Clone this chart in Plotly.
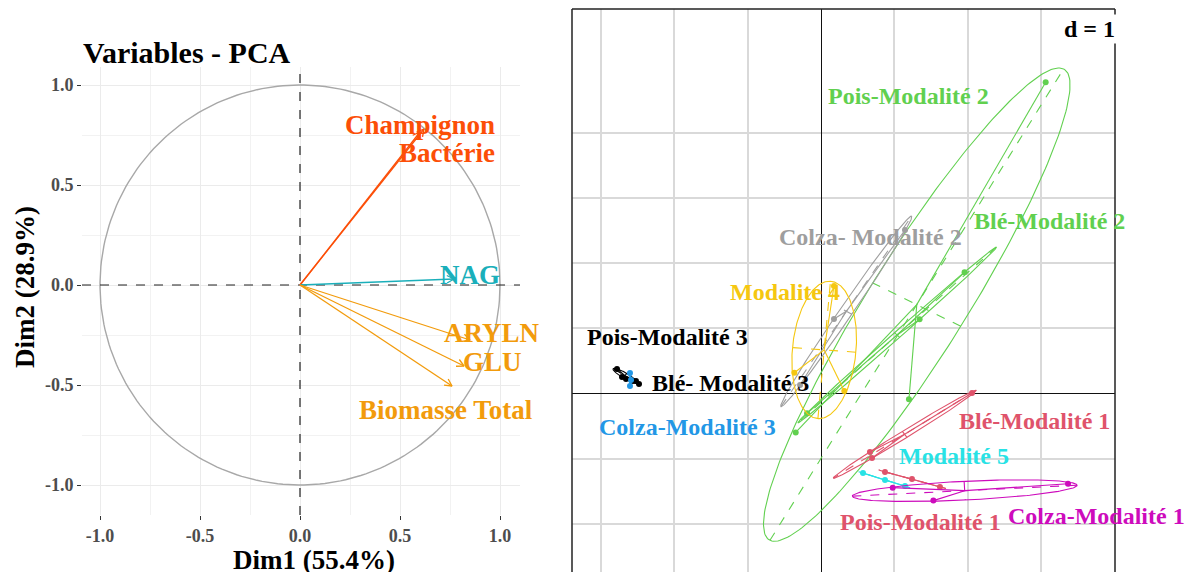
import numpy as np
import plotly.graph_objects as go

# ---------------- Left panel : PCA variables ----------------
var_names = ["Champignon", "Bactérie", "NAG", "ARYLN", "GLU", "Biomasse Total"]
var_dim1 = [0.62, 0.60, 0.77, 0.85, 0.82, 0.76]
var_dim2 = [0.78, 0.765, 0.03, -0.275, -0.405, -0.505]
var_colors = ["#FC4E07", "#FC4E07", "#1AAFBA", "#F29B0C", "#F29B0C", "#F29B0C"]
var_label_x = [0.60, 0.735, 0.85, 0.96, 0.96, 0.73]
var_label_y = [0.80, 0.66, 0.05, -0.24, -0.385, -0.625]
dim1_title = "Dim1 (55.4%)"
dim2_title = "Dim2 (28.9%)"
left_ticks = [-1.0, -0.5, 0.0, 0.5, 1.0]
left_ticktext = ["-1.0", "-0.5", "0.0", "0.5", "1.0"]

# ---------------- Right panel : s.class groups ----------------
grp_names = ["Pois-Modalité 2", "Blé-Modalité 2", "Colza- Modalité 2", "Modalite 4",
             "Pois-Modalité 3", "Blé- Modalité 3", "Colza-Modalité 3",
             "Blé-Modalité 1", "Modalité 5", "Pois-Modalité 1", "Colza-Modalité 1"]
grp_colors = ["#61D04F", "#61D04F", "#9E9E9E", "#F5C710",
              "#000000", "#000000", "#2297E6",
              "#DF536B", "#28E2E5", "#DF536B", "#CD0BBC"]
grp_x = [[3.065, 1.20, -0.345],
         [1.959, 1.345, -0.19],
         [1.146, 0.177, -0.286],
         [0.177, -0.364, 0.318],
         [-2.783, -2.715, -2.524],
         [-2.660, -2.565, -2.483],
         [-2.606, -2.592, -2.606],
         [2.060, 0.696, 0.668],
         [0.573, 0.873, 1.146],
         [0.873, 1.241, 1.623],
         [3.370, 0.978, 1.533]]
grp_y = [[4.77, -0.09, -0.60],
         [1.855, 1.134, -0.307],
         [2.505, 1.140, 0.127],
         [1.646, 0.316, 0.035],
         [0.373, 0.250, 0.189],
         [0.219, 0.189, 0.143],
         [0.311, 0.204, 0.112],
         [0.005, -0.992, -0.900],
         [-1.222, -1.330, -1.422],
         [-1.206, -1.314, -1.437],
         [-1.387, -1.447, -1.646]]
grp_label_x = [1.187, 3.124, 0.682, -0.491, -2.101, -1.241, -1.828, 2.906, 1.814, 1.351, 3.752]
grp_label_y = [4.56, 2.643, 2.397, 1.554, 0.864, 0.158, -0.517, -0.425, -0.962, -1.974, -1.882]
grid_x = [-3, -2, -1, 1, 2, 3]
grid_y = [-2, -1, 1, 2, 3, 4]
cellipse = 1.5

SERIF = "Liberation Serif"
W, H = 1194, 572
OFF = 8  # page body margin of the browser


def fx(p):
    return (p - OFF) / W


def fy(p):
    return 1 - (p - OFF) / H


fig = go.Figure()

# ---- left panel traces
t = np.linspace(0, 2 * np.pi, 240)
fig.add_trace(go.Scatter(x=np.cos(t), y=np.sin(t), mode="lines",
                         line=dict(color="#A8A8A8", width=1.4), xaxis="x", yaxis="y",
                         hoverinfo="skip", showlegend=False))
fig.add_trace(go.Scatter(x=[-1.09, 1.10], y=[0, 0], mode="lines",
                         line=dict(color="#222222", width=1.2, dash="dash"),
                         xaxis="x", yaxis="y", showlegend=False, hoverinfo="skip"))
fig.add_trace(go.Scatter(x=[0, 0], y=[-1.15, 1.09], mode="lines",
                         line=dict(color="#222222", width=1.2, dash="dash"),
                         xaxis="x", yaxis="y", showlegend=False, hoverinfo="skip"))

head_len = 0.04
head_ang = np.deg2rad(28)
for name, vx, vy, col in zip(var_names, var_dim1, var_dim2, var_colors):
    ang = np.arctan2(vy, vx)
    hx = [vx - head_len * np.cos(ang - head_ang), vx, vx - head_len * np.cos(ang + head_ang)]
    hy = [vy - head_len * np.sin(ang - head_ang), vy, vy - head_len * np.sin(ang + head_ang)]
    fig.add_trace(go.Scatter(x=[0, vx, None] + hx, y=[0, vy, None] + hy, mode="lines",
                             line=dict(color=col, width=1.3), xaxis="x", yaxis="y",
                             showlegend=False, name=name))

annotations = []
for name, lx, ly, col in zip(var_names, var_label_x, var_label_y, var_colors):
    annotations.append(dict(x=lx, y=ly, xref="x", yref="y", text="<b>%s</b>" % name,
                            showarrow=False, font=dict(family=SERIF, size=27, color=col)))

annotations.append(dict(x=fx(81), y=fy(53), xref="paper", yref="paper",
                        xanchor="left", yanchor="middle", text="<b>Variables - PCA</b>",
                        showarrow=False, font=dict(family=SERIF, size=30, color="#000000")))
annotations.append(dict(x=fx(314), y=fy(560), xref="paper", yref="paper",
                        xanchor="center", yanchor="middle", text="<b>%s</b>" % dim1_title,
                        showarrow=False, font=dict(family=SERIF, size=27, color="#000000")))
annotations.append(dict(x=fx(25), y=fy(287), xref="paper", yref="paper",
                        xanchor="center", yanchor="middle", text="<b>%s</b>" % dim2_title,
                        textangle=-90, showarrow=False,
                        font=dict(family=SERIF, size=27, color="#000000")))

# ---- right panel traces
for name, xs, ys, col in zip(grp_names, grp_x, grp_y, grp_colors):
    x = np.array(xs, dtype=float)
    y = np.array(ys, dtype=float)
    mx, my = x.mean(), y.mean()
    cov = np.cov(np.vstack([x, y]), bias=True)
    vals, vecs = np.linalg.eigh(cov)
    order = np.argsort(vals)[::-1]
    vals = np.clip(vals[order], 0, None)
    vecs = vecs[:, order]
    a = cellipse * np.sqrt(vals[0])
    b = cellipse * np.sqrt(vals[1])
    v1, v2 = vecs[:, 0], vecs[:, 1]
    ex = mx + a * np.cos(t) * v1[0] + b * np.sin(t) * v2[0]
    ey = my + a * np.cos(t) * v1[1] + b * np.sin(t) * v2[1]
    fig.add_trace(go.Scatter(x=ex, y=ey, mode="lines", line=dict(color=col, width=1.1),
                             xaxis="x2", yaxis="y2", showlegend=False, hoverinfo="skip"))
    axx = [mx - a * v1[0], mx + a * v1[0], None, mx - b * v2[0], mx + b * v2[0]]
    axy = [my - a * v1[1], my + a * v1[1], None, my - b * v2[1], my + b * v2[1]]
    fig.add_trace(go.Scatter(x=axx, y=axy, mode="lines",
                             line=dict(color=col, width=1.1, dash="dash"),
                             xaxis="x2", yaxis="y2", showlegend=False, hoverinfo="skip"))
    sx, sy = [], []
    for px, py in zip(x, y):
        sx += [mx, px, None]
        sy += [my, py, None]
    fig.add_trace(go.Scatter(x=sx, y=sy, mode="lines", line=dict(color=col, width=1.1),
                             xaxis="x2", yaxis="y2", showlegend=False, hoverinfo="skip"))
    fig.add_trace(go.Scatter(x=x, y=y, mode="markers", marker=dict(color=col, size=6),
                             xaxis="x2", yaxis="y2", showlegend=False, name=name))

for name, lx, ly, col in zip(grp_names, grp_label_x, grp_label_y, grp_colors):
    annotations.append(dict(x=lx, y=ly, xref="x2", yref="y2", text="<b>%s</b>" % name,
                            showarrow=False, font=dict(family=SERIF, size=24, color=col)))

annotations.append(dict(x=fx(1117), y=fy(29), xref="paper", yref="paper",
                        xanchor="right", yanchor="middle", text="<b>d = 1</b>",
                        showarrow=False, bgcolor="white", borderpad=1,
                        font=dict(family=SERIF, size=24, color="#000000")))

# right panel frame (left, top, right; bottom is cut off)
shapes = [
    dict(type="line", xref="x2 domain", yref="y2 domain", x0=0, x1=0, y0=0, y1=1,
         line=dict(color="#222222", width=1.5)),
    dict(type="line", xref="x2 domain", yref="y2 domain", x0=0, x1=1, y0=1, y1=1,
         line=dict(color="#222222", width=1.5)),
    dict(type="line", xref="x2 domain", yref="y2 domain", x0=1, x1=1, y0=0, y1=1,
         line=dict(color="#222222", width=1.5)),
]

tickfont = dict(family=SERIF, size=18, color="#4D4D4D", weight="bold")

# right panel pixel geometry (window pixels): x=0 at 821, 73.3 px/unit; y=0 at 393.3, 65.2 px/unit
x2_lo, x2_hi = (572 - 821) / 73.3, (1115 - 821) / 73.3
y2_hi = (393.3 - 9) / 65.2
y2_lo = (393.3 - (H + OFF)) / 65.2

fig.update_layout(
    width=W, height=H,
    margin=dict(l=0, r=0, t=0, b=0),
    paper_bgcolor="white", plot_bgcolor="white",
    showlegend=False,
    xaxis=dict(domain=[fx(82), fx(520)], range=[-1.09, 1.10],
               tickvals=left_ticks, ticktext=left_ticktext, tickfont=tickfont,
               showgrid=True, gridcolor="#EBEBEB", gridwidth=1.2, zeroline=False,
               ticks="outside", ticklen=4, tickcolor="#333333", tickwidth=1.2,
               minor=dict(tickvals=[-0.75, -0.25, 0.25, 0.75], showgrid=True,
                          gridcolor="#F2F2F2", gridwidth=1, ticks=""),
               showline=False, fixedrange=True, anchor="y"),
    yaxis=dict(domain=[fy(515), fy(67)], range=[-1.15, 1.09],
               tickvals=left_ticks, ticktext=left_ticktext, tickfont=tickfont,
               showgrid=True, gridcolor="#EBEBEB", gridwidth=1.2, zeroline=False,
               ticks="outside", ticklen=4, tickcolor="#333333", tickwidth=1.2,
               minor=dict(tickvals=[-0.75, -0.25, 0.25, 0.75], showgrid=True,
                          gridcolor="#F2F2F2", gridwidth=1, ticks=""),
               showline=False, fixedrange=True, anchor="x"),
    xaxis2=dict(domain=[fx(572), fx(1115)], range=[x2_lo, x2_hi],
                tickvals=grid_x, showticklabels=False, ticks="",
                showgrid=True, gridcolor="#D9D9D9", gridwidth=1.5,
                zeroline=True, zerolinecolor="#111111", zerolinewidth=1.2,
                showline=False, anchor="y2"),
    yaxis2=dict(domain=[0, fy(9)], range=[y2_lo, y2_hi],
                tickvals=grid_y, showticklabels=False, ticks="",
                showgrid=True, gridcolor="#D9D9D9", gridwidth=1.5,
                zeroline=True, zerolinecolor="#111111", zerolinewidth=1.2,
                showline=False, anchor="x2"),
    annotations=annotations,
    shapes=shapes,
)

fig.write_html("out.html")
